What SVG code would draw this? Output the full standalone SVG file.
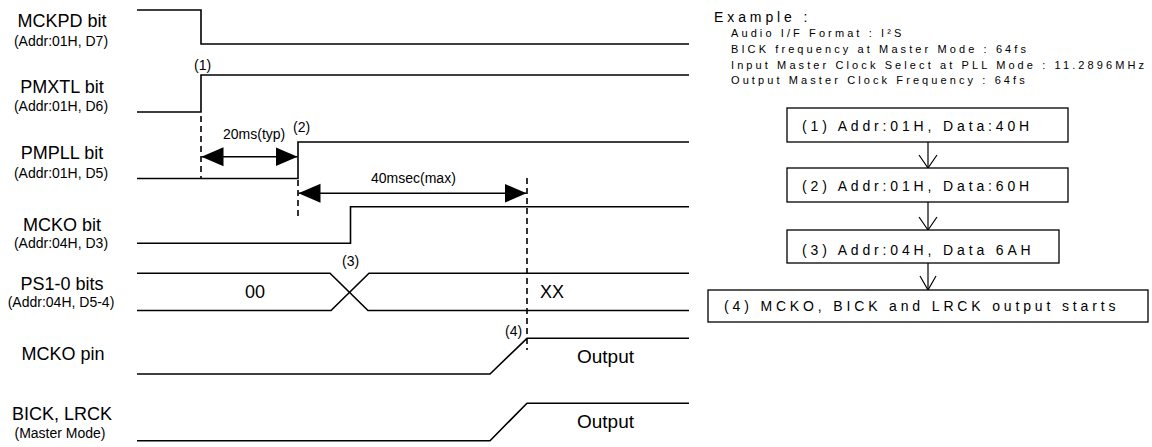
<svg xmlns="http://www.w3.org/2000/svg" width="1152" height="447" viewBox="0 0 1152 447">
<style>
text{font-family:"Liberation Sans",Arial,sans-serif;fill:#000}
.lbl{font-size:18px;text-anchor:middle}
.sub{font-size:14px;text-anchor:middle}
.note{font-size:14px}
.val{font-size:18px}
.out{font-size:19px}
.ex{font-size:14px;letter-spacing:3.9px}
.exl{font-size:11px;letter-spacing:3.1px}
.bt{font-size:14px;letter-spacing:3.85px}
.sig{fill:none;stroke:#000;stroke-width:1.6}
.dash{fill:none;stroke:#000;stroke-width:1.6;stroke-dasharray:6 4}
.arr{fill:none;stroke:#000;stroke-width:1.5}
.box{fill:#fff;stroke:#000;stroke-width:1.3}
.flow{fill:none;stroke:#000;stroke-width:1.2}
</style>
<defs>
<marker id="ah" markerUnits="userSpaceOnUse" markerWidth="22" markerHeight="20" refX="22" refY="9.5" orient="auto-start-reverse" viewBox="0 0 22 19">
<path d="M0,0 L22,9.5 L0,19 Z" fill="#000"/>
</marker>
</defs>

<g id="mckpd">
<text class="lbl" x="62" y="27">MCKPD bit</text>
<text class="sub" x="61" y="45.5">(Addr:01H, D7)</text>
<polyline class="sig" points="137,10 201,10 201,44 689,44"/>
</g>

<g id="pmxtl">
<text class="lbl" x="62" y="93">PMXTL bit</text>
<text class="sub" x="61" y="111">(Addr:01H, D6)</text>
<polyline class="sig" points="137,112 201,112 201,75 689,75"/>
<text class="note" x="194" y="70">(1)</text>
</g>

<g id="pmpll">
<text class="lbl" x="62" y="159">PMPLL bit</text>
<text class="sub" x="61" y="178">(Addr:01H, D5)</text>
<polyline class="sig" points="137,178.5 298,178.5 298,142 689,142"/>
<text class="note" x="293" y="132">(2)</text>
</g>

<g id="mcko-bit">
<text class="lbl" x="62" y="231">MCKO bit</text>
<text class="sub" x="61" y="248">(Addr:04H, D3)</text>
<polyline class="sig" points="137,243.3 350.5,243.3 350.5,206.7 689,206.7"/>
</g>

<g id="ps">
<text class="lbl" x="62" y="290">PS1-0 bits</text>
<text class="sub" x="61" y="307">(Addr:04H, D5-4)</text>
<polyline class="sig" points="137,273.3 330,273.3 368,310.5 689,310.5"/>
<polyline class="sig" points="137,310.5 331,310.5 369,273.3 689,273.3"/>
<text class="note" x="342" y="266">(3)</text>
<text class="val" x="245" y="297.5">00</text>
<text class="val" x="540" y="297.5">XX</text>
</g>

<g id="mcko-pin">
<text class="lbl" x="63" y="360">MCKO pin</text>
<polyline class="sig" points="137,374 490,374 527,338.3 689,338.3"/>
<text class="note" x="505" y="336">(4)</text>
<text class="out" x="577" y="362.7">Output</text>
</g>

<g id="bick-lrck">
<text class="lbl" x="62" y="420">BICK, LRCK</text>
<text class="sub" x="60" y="438">(Master Mode)</text>
<polyline class="sig" points="137,440.7 490,440.7 527,403.3 689,403.3"/>
<text class="out" x="577" y="428.3">Output</text>
</g>

<g id="connectors">
<line class="dash" x1="201" y1="116" x2="201" y2="178"/>
<line class="dash" x1="298" y1="180" x2="298" y2="216"/>
<line class="dash" x1="527" y1="178" x2="527" y2="350"/>
<line class="arr" x1="201.5" y1="156.7" x2="297.5" y2="156.7" marker-start="url(#ah)" marker-end="url(#ah)"/>
<text class="note" x="223" y="138.5">20ms(typ)</text>
<line class="arr" x1="298.5" y1="193.3" x2="526.5" y2="193.3" marker-start="url(#ah)" marker-end="url(#ah)"/>
<text class="note" x="371" y="182.7">40msec(max)</text>
<line class="flow" x1="928" y1="142" x2="928" y2="168"/>
<polyline class="flow" points="919,155 928,168 937,155"/>
<line class="flow" x1="928" y1="202" x2="928" y2="230"/>
<polyline class="flow" points="919,217 928,230 937,217"/>
<line class="flow" x1="928" y1="263" x2="928" y2="290"/>
<polyline class="flow" points="920,276 928,290 936,276"/>
</g>

<g id="example">
<text class="ex" x="714" y="21.5">Example :</text>
<text class="exl" x="731" y="37.3">Audio I/F Format : I²S</text>
<text class="exl" x="731" y="53">BICK frequency at Master Mode : 64fs</text>
<text class="exl" x="731" y="68.8">Input Master Clock Select at PLL Mode : 11.2896MHz</text>
<text class="exl" x="731" y="84.3">Output Master Clock Frequency : 64fs</text>
</g>

<g id="step1">
<rect class="box" x="787" y="108" width="281" height="34"/>
<text class="bt" x="802" y="130.7">(1) Addr:01H, Data:40H</text>
</g>
<g id="step2">
<rect class="box" x="787" y="168" width="281" height="34"/>
<text class="bt" x="802" y="191">(2) Addr:01H, Data:60H</text>
</g>
<g id="step3">
<rect class="box" x="787" y="230" width="272" height="33"/>
<text class="bt" x="802" y="255">(3) Addr:04H, Data 6AH</text>
</g>
<g id="step4">
<rect class="box" x="708" y="290" width="440" height="32"/>
<text class="bt" x="724" y="311">(4) MCKO, BICK and LRCK output starts</text>
</g>
</svg>
